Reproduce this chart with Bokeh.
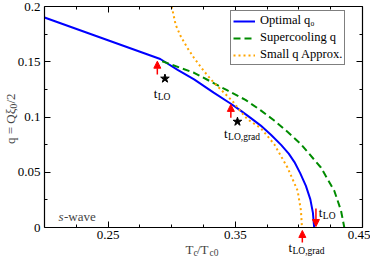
from bokeh.plotting import figure
from bokeh.models import (Range1d, FixedTicker, LinearAxis, Label, Arrow,
                          NormalHead, CustomJSTickFormatter, CustomLabelingPolicy)
from bokeh.embed import file_html
from bokeh.resources import INLINE

# ---------------- data ----------------
OPT_T = [0.200, 0.291, 0.305, 0.3176, 0.333, 0.3465, 0.3545, 0.362, 0.370,
         0.378, 0.386, 0.392, 0.3965, 0.401, 0.4055, 0.409, 0.411, 0.412]
OPT_Q = [0.190, 0.1525, 0.1425, 0.1340, 0.1220, 0.1120, 0.1055, 0.0992, 0.0922,
         0.0840, 0.0748, 0.0668, 0.0592, 0.0492, 0.0377, 0.0255, 0.0135, 0.000]

SUP_T = [0.2925, 0.3176, 0.3439, 0.358, 0.370, 0.3806, 0.391, 0.4016, 0.4173,
         0.4278, 0.4331, 0.4357]
SUP_Q = [0.1505, 0.1400, 0.1240, 0.1155, 0.1060, 0.0968, 0.0866, 0.0754, 0.0543,
         0.0333, 0.0153, 0.000]

SMALL_T = [0.3000, 0.3031, 0.3071, 0.3124, 0.3176, 0.3254, 0.3333, 0.3412,
           0.3478, 0.3543, 0.3596, 0.370, 0.3806, 0.391, 0.399, 0.4016, 0.4024]
SMALL_Q = [0.2000, 0.1835, 0.1730, 0.1624, 0.1534, 0.1414, 0.1309, 0.1219,
           0.1144, 0.1050, 0.0979, 0.0900, 0.0754, 0.0543, 0.0333, 0.0153, 0.000]

STAR_T = [0.2947, 0.3517]
STAR_Q = [0.1348, 0.0958]

ARROW_T = [0.2887, 0.3465, 0.4134, 0.4027]
ARROW_Q_FROM = [0.1385, 0.0994, 0.0171, -0.0135]
ARROW_Q_TO = [0.1505, 0.1114, 0.0009, -0.0027]

TLAB_T = [0.2858, 0.3412, 0.4157, 0.3918]
TLAB_Q = [0.1216, 0.0847, 0.0138, -0.0185]
TLAB_SUB = ["LO", "LO,grad", "LO", "LO,grad"]

X_MAJOR = [0.25, 0.35, 0.45]
X_MINOR = [0.225, 0.275, 0.3, 0.325, 0.375, 0.4, 0.425]
Y_MAJOR = [0, 0.05, 0.1, 0.15, 0.2]
Y_MINOR = [0.025, 0.075, 0.125, 0.175]

LEGEND_LABELS = ["Optimal q\u2080", "Supercooling q", "Small q Approx."]

SERIF = "Liberation Serif"

# ---------------- geometry ----------------
W, H = 370, 257
FX0, FX1 = 44, 362      # pixel column of x = 0.2 and x = 0.45
FY0, FY1 = 227, 6       # pixel row of y = 0 and y = 0.2
KX = (FX1 - FX0) / (0.45 - 0.2)
KY = (FY0 - FY1) / 0.2

p = figure(width=W, height=H, output_backend="svg", toolbar_location=None,
           x_range=Range1d(0.2 - FX0 / KX, 0.45 + (W - FX1) / KX),
           y_range=Range1d(0 - (H - FY0) / KY, 0.2 + FY1 / KY),
           min_border=0, min_border_left=0, min_border_right=0,
           min_border_top=0, min_border_bottom=0)
p.xgrid.visible = False
p.ygrid.visible = False
p.outline_line_color = None
p.background_fill_color = "white"
p.border_fill_color = "white"

fmt = CustomJSTickFormatter(code="return String(Math.round(tick*1000)/1000);")
xt = FixedTicker(ticks=X_MAJOR, minor_ticks=X_MINOR)
yt = FixedTicker(ticks=Y_MAJOR, minor_ticks=Y_MINOR)
no_labels = CustomLabelingPolicy(code="return []")


def style_axis(ax, ticker, loc, bounds, labels=True):
    ax.ticker = ticker
    ax.formatter = fmt
    ax.fixed_location = loc
    ax.bounds = bounds
    ax.major_tick_in = 6
    ax.major_tick_out = 0
    ax.minor_tick_in = 3
    ax.minor_tick_out = 0
    ax.axis_line_color = "black"
    ax.axis_line_width = 1.2
    ax.major_tick_line_color = "black"
    ax.minor_tick_line_color = "black"
    ax.major_label_text_font = SERIF
    ax.major_label_text_color = "black"
    ax.major_label_text_font_size = "13px"
    ax.major_label_standoff = 3
    if not labels:
        ax.major_label_policy = no_labels


style_axis(p.xaxis[0], xt, 0, (0.2, 0.45))
style_axis(p.yaxis[0], yt, 0.2, (0, 0.2))
p.yaxis[0].major_label_standoff = 4

top_ax = LinearAxis()
right_ax = LinearAxis()
style_axis(top_ax, xt, 0.2, (0.2, 0.45), labels=False)
style_axis(right_ax, yt, 0.45, (0, 0.2), labels=False)
p.add_layout(top_ax, "above")
p.add_layout(right_ax, "right")

# ---------------- curves ----------------
p.line(OPT_T, OPT_Q, line_color="#0000ff", line_width=2,
       legend_label=LEGEND_LABELS[0])
p.line(SUP_T, SUP_Q, line_color="#008b00", line_width=2, line_dash="7 4",
       legend_label=LEGEND_LABELS[1])
p.line(SMALL_T, SMALL_Q, line_color="#ffa500", line_width=2, line_dash="2 3",
       legend_label=LEGEND_LABELS[2])

p.scatter(STAR_T, STAR_Q, marker="star", size=9, fill_color="black",
          line_color="black")

# ---------------- arrows ----------------
for xa, y0, y1 in zip(ARROW_T, ARROW_Q_FROM, ARROW_Q_TO):
    p.add_layout(Arrow(end=NormalHead(size=7, fill_color="red", line_color="red"),
                       x_start=xa, y_start=y0, x_end=xa, y_end=y1,
                       line_color="red", line_width=1.5))

# ---------------- t labels ----------------
for xt_, yt_, sub in zip(TLAB_T, TLAB_Q, TLAB_SUB):
    p.add_layout(Label(x=xt_, y=yt_, text="t", text_font=SERIF,
                       text_font_size="13px", text_baseline="alphabetic",
                       text_align="left", text_color="black"))
    p.add_layout(Label(x=xt_, y=yt_, x_offset=4, y_offset=-3.5, text=sub,
                       text_font=SERIF, text_font_size="9.5px",
                       text_baseline="alphabetic", text_align="left",
                       text_color="black"))

# s-wave
p.add_layout(Label(x=0.2110, y=0.0099, text="s", text_font=SERIF,
                   text_font_style="italic", text_font_size="13px",
                   text_baseline="alphabetic", text_align="left"))
p.add_layout(Label(x=0.2110, y=0.0099, x_offset=5.5, text="-wave", text_font=SERIF,
                   text_font_size="13px", text_baseline="alphabetic",
                   text_align="left"))

# x axis label: T_c / T_c0
XL_X, XL_Y = 0.3108, -0.0203
for txt, dx, dy, fs in [("T", 0, 0, "13px"), ("c", 8, -3.5, "9.5px"),
                        ("/T", 11.5, 0, "13px"), ("c0", 24, -3.5, "9.5px")]:
    p.add_layout(Label(x=XL_X, y=XL_Y, x_offset=dx, y_offset=dy, text=txt,
                       text_font=SERIF, text_font_size=fs,
                       text_baseline="alphabetic", text_align="left"))

# y axis label: q = Q xi_0 / 2 (rotated)
YL_X, YL_Y = 0.1733, 0.0755
for txt, dx, dy, fs in [("q = Q\u03be", 0, 0, "13px"), ("0", 3, 35.5, "9.5px"),
                        ("/2", 0, 40.5, "13px")]:
    p.add_layout(Label(x=YL_X, y=YL_Y, x_offset=dx, y_offset=dy, text=txt,
                       angle=90, angle_units="deg",
                       text_font=SERIF, text_font_size=fs,
                       text_baseline="alphabetic", text_align="left"))

# ---------------- legend ----------------
lg = p.legend[0]
lg.location = (230, H - 65)
lg.margin = 0
lg.padding = 2
lg.spacing = 2
lg.label_height = 14
lg.glyph_height = 14
lg.glyph_width = 22
lg.label_standoff = 5
lg.label_text_font = SERIF
lg.label_text_font_size = "12.5px"
lg.label_text_line_height = 1.0
lg.label_text_color = "black"
lg.border_line_color = "black"
lg.border_line_width = 1
lg.background_fill_color = "white"
lg.background_fill_alpha = 1.0

open("out.html", "w").write(file_html(p, INLINE))
